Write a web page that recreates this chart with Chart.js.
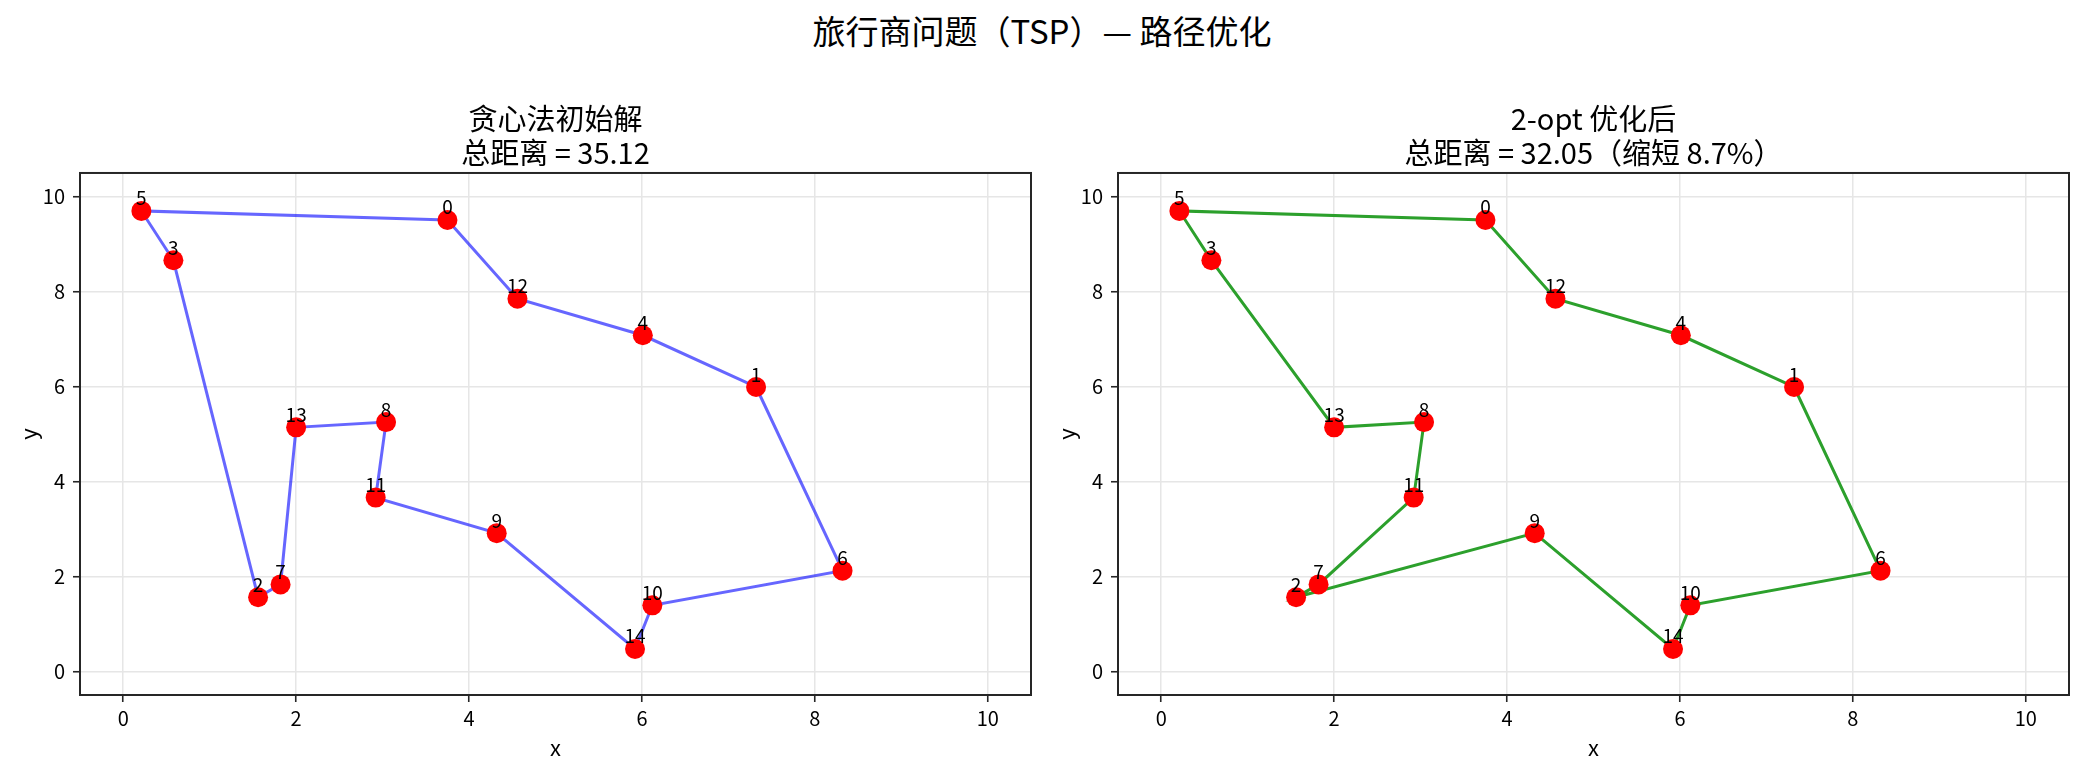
<!DOCTYPE html>
<html><head><meta charset="utf-8">
<script src="https://cdn.jsdelivr.net/npm/chart.js@4.4.0/dist/chart.umd.min.js"></script>
<style>
html,body{margin:0;padding:0;background:#fff;width:2084px;height:772px;overflow:hidden;}
#sup{position:absolute;left:0;top:10px;width:2084px;text-align:center;font-family:'Noto Sans CJK SC',sans-serif;font-size:33px;line-height:40px;color:#000;}
canvas{position:absolute;}
</style></head><body>
<div id="sup">旅行商问题（TSP）— 路径优化</div>
<canvas id="c1" width="1045" height="682" style="left:0px;top:90px"></canvas>
<canvas id="c2" width="1044" height="682" style="left:1040px;top:90px"></canvas>
<script>
// City coordinates (index = city id)
const cityX = [3.75, 7.32, 1.56, 0.58, 6.01, 0.21, 8.32, 1.82, 3.04, 4.32, 6.12, 2.92, 4.56, 2.00, 5.92];
const cityY = [9.51, 5.99, 1.56, 8.66, 7.08, 9.70, 2.12, 1.83, 5.25, 2.91, 1.39, 3.66, 7.85, 5.14, 0.47];
// Routes (closed tours)
const greedyRoute = [0, 12, 4, 1, 6, 10, 14, 9, 11, 8, 13, 7, 2, 3, 5, 0];
const optRoute    = [0, 12, 4, 1, 6, 10, 14, 9, 2, 7, 11, 8, 13, 3, 5, 0];
// Tick values
const xTicks = [0, 2, 4, 6, 8, 10];
const yTicks = [0, 2, 4, 6, 8, 10];
// Titles
const greedyTitle = ['贪心法初始解', '总距离 = 35.12'];
const optTitle = ['2-opt 优化后', '总距离 = 32.05（缩短 8.7%）'];

const FONT = "'Noto Sans CJK SC', sans-serif";

const framePlugin = {
  id: 'frame',
  afterDatasetsDraw(chart) {
    const a = chart.chartArea, ctx = chart.ctx;
    ctx.save();
    ctx.strokeStyle = '#262626';
    ctx.lineWidth = 2;
    ctx.strokeRect(a.left, a.top, a.right - a.left, a.bottom - a.top);
    ctx.restore();
  }
};

const labelPlugin = {
  id: 'cityLabels',
  afterDatasetsDraw(chart) {
    const meta = chart.getDatasetMeta(0);
    const ctx = chart.ctx;
    ctx.save();
    ctx.fillStyle = '#000';
    ctx.font = '19px ' + FONT;
    ctx.textAlign = 'center';
    ctx.textBaseline = 'alphabetic';
    meta.data.forEach((pt, i) => {
      ctx.fillText(String(i), pt.x, pt.y - 5.5);
    });
    ctx.restore();
  }
};

function makeChart(id, route, color, title, yWidth, yTitlePad, rightPad) {
  const pts = cityX.map((x, i) => ({ x: x, y: cityY[i] }));
  const path = route.map(i => ({ x: cityX[i], y: cityY[i] }));
  return new Chart(document.getElementById(id), {
    type: 'scatter',
    data: {
      datasets: [
        { data: pts, backgroundColor: '#ff0000', borderWidth: 0, pointRadius: 10, pointHoverRadius: 10, order: 0 },
        { data: path, showLine: true, borderColor: color, borderWidth: 3, pointRadius: 0, pointHoverRadius: 0, tension: 0, fill: false, order: 1 }
      ]
    },
    options: {
      responsive: false,
      animation: false,
      devicePixelRatio: 1,
      events: [],
      layout: { padding: { left: 0, right: rightPad, top: 0, bottom: 0 } },
      plugins: {
        legend: { display: false },
        tooltip: { enabled: false },
        title: {
          display: true, text: title, fullSize: false, color: '#000',
          font: { family: FONT, size: 29, weight: 'normal', lineHeight: 1.172 },
          padding: { top: 12, bottom: 3 }
        }
      },
      scales: {
        x: {
          type: 'linear', min: -0.5, max: 10.5,
          afterBuildTicks: s => { s.ticks = xTicks.map(v => ({ value: v })); },
          afterFit: s => { s.height = 77; },
          ticks: { font: { family: FONT, size: 20 }, color: '#000', padding: 4, maxRotation: 0, autoSkip: false },
          grid: { color: '#e6e6e6', lineWidth: 1.5, tickColor: '#262626', tickLength: 7, tickWidth: 1.6 },
          border: { display: false },
          title: { display: true, text: 'x', color: '#000', font: { family: FONT, size: 22 }, padding: { top: 4, bottom: 11 } }
        },
        y: {
          type: 'linear', min: -0.5, max: 10.5,
          afterBuildTicks: s => { s.ticks = yTicks.map(v => ({ value: v })); },
          afterFit: s => { s.width = yWidth; },
          ticks: { font: { family: FONT, size: 20 }, color: '#000', padding: 8, autoSkip: false },
          grid: { color: '#e6e6e6', lineWidth: 1.5, tickColor: '#262626', tickLength: 7, tickWidth: 1.6 },
          border: { display: false },
          title: { display: true, text: 'y', color: '#000', font: { family: FONT, size: 22 }, padding: { top: yTitlePad, bottom: 4 } }
        }
      }
    },
    plugins: [framePlugin, labelPlugin]
  });
}

makeChart('c1', greedyRoute, 'rgba(0,0,255,0.6)', greedyTitle, 80, 15, 14);
makeChart('c2', optRoute, '#2ca02c', optTitle, 78, 13, 15);
</script>
</body></html>
